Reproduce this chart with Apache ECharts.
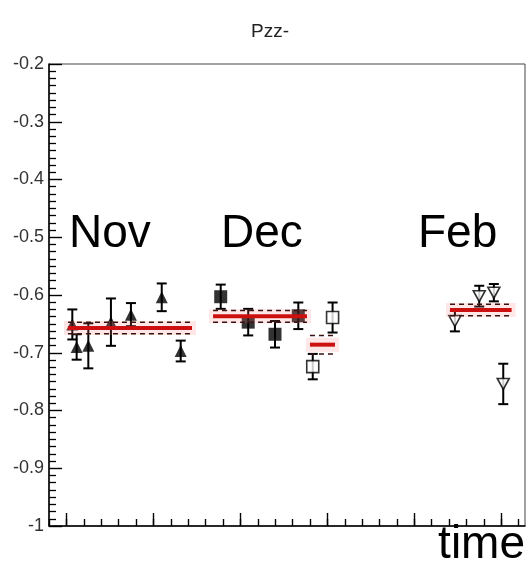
<!DOCTYPE html>
<html>
<head>
<meta charset="utf-8">
<script src="https://cdn.jsdelivr.net/npm/echarts@6/dist/echarts.min.js"></script>
<style>
  html, body { margin: 0; padding: 0; background: #fff; }
  #chart { width: 530px; height: 566px; }
</style>
</head>
<body>
<div id="chart"></div>
<script>
// x is in tick units (one minor tick = 1), y is Pzz-
const novX = [1.34, 1.59, 2.26, 3.56, 4.71, 6.48, 7.57];
const novY = [-0.651, -0.690, -0.688, -0.647, -0.634, -0.604, -0.697];
const novErr = [0.026, 0.022, 0.039, 0.041, 0.020, 0.024, 0.018];

const decX = [9.87, 11.45, 12.99, 14.33];
const decY = [-0.603, -0.647, -0.668, -0.636];
const decErr = [0.021, 0.023, 0.023, 0.023];

const dec2X = [15.16, 16.30];
const dec2Y = [-0.724, -0.639];
const dec2Err = [0.022, 0.026];

const febX = [23.33, 24.73, 25.57, 26.11];
const febY = [-0.645, -0.602, -0.596, -0.754];
const febErr = [0.018, 0.018, 0.015, 0.035];

// averages: [xStart, xEnd, mean, error]
const averages = [
    [1.09, 8.22, -0.657, 0.010],
    [9.43, 14.83, -0.637, 0.010],
    [15.0, 16.44, -0.686, 0.016],
    [23.05, 26.59, -0.626, 0.010],
];

const xMinorTicks = [0, 1, 2, 3, 4, 5, 6, 7, 8, 9, 10, 11, 12, 13, 14, 15, 16, 17, 18, 19, 20, 21, 22, 23, 24, 25, 26, 27];
const xMajorTicks = [1, 6, 11, 16, 21, 26];

const FONT = "'Liberation Sans', Arial, sans-serif";

function pts(xs, ys, es) {
    return xs.map((x, i) => [x, ys[i], es[i]]);
}

const allPoints = []
    .concat(pts(novX, novY, novErr))
    .concat(pts(decX, decY, decErr))
    .concat(pts(dec2X, dec2Y, dec2Err))
    .concat(pts(febX, febY, febErr));

function errorBars(params, api) {
    const x = api.value(0), y = api.value(1), e = api.value(2);
    const top = api.coord([x, y + e]);
    const bot = api.coord([x, y - e]);
    const w = 5;
    const st = { stroke: "#000", lineWidth: 2 };
    return {
        type: "group",
        children: [
            { type: "line", shape: { x1: top[0], y1: top[1], x2: bot[0], y2: bot[1] }, style: st },
            { type: "line", shape: { x1: top[0] - w, y1: top[1], x2: top[0] + w, y2: top[1] }, style: st },
            { type: "line", shape: { x1: bot[0] - w, y1: bot[1], x2: bot[0] + w, y2: bot[1] }, style: st },
        ],
    };
}

function avgBand(params, api) {
    const x1 = api.value(0), x2 = api.value(1), m = api.value(2), e = api.value(3);
    const a = api.coord([x1, m]);
    const b = api.coord([x2, m]);
    const up = api.coord([x1, m + e]);
    const dn = api.coord([x1, m - e]);
    const dash = { stroke: "#3a1010", lineWidth: 1.5, lineDash: [5, 4] };
    return {
        type: "group",
        children: [
            { type: "rect", shape: { x: a[0] - 4, y: a[1] - 7, width: b[0] - a[0] + 8, height: 14 },
              style: { fill: "rgba(255,120,120,0.18)" } },
            { type: "line", shape: { x1: a[0], y1: up[1], x2: b[0], y2: up[1] }, style: dash },
            { type: "line", shape: { x1: a[0], y1: dn[1], x2: b[0], y2: dn[1] }, style: dash },
            { type: "line", shape: { x1: a[0], y1: a[1], x2: b[0], y2: b[1] },
              style: { stroke: "#cc1010", lineWidth: 4 } },
        ],
    };
}

const chart = echarts.init(document.getElementById("chart"), null, { renderer: "canvas" });

const xBase = {
    type: "value",
    min: 0,
    max: 27.36,
    position: "bottom",
    axisLabel: { show: false },
    splitLine: { show: false },
};

chart.setOption({
    animation: false,
    backgroundColor: "#fff",
    title: {
        text: "Pzz-",
        left: 265,
        top: 17,
        textAlign: "center",
        textStyle: { fontFamily: FONT, fontWeight: "normal", fontSize: 19, color: "#222" },
    },
    grid: {
        left: 49, right: 5, top: 64, bottom: 40,
        show: true, borderColor: "#444", borderWidth: 1,
    },
    xAxis: [
        Object.assign({}, xBase, {
            axisLine: { show: true, lineStyle: { color: "#000", width: 1.5 } },
            axisTick: { show: true, inside: true, length: 7, customValues: xMinorTicks,
                        lineStyle: { color: "#000", width: 1.4 } },
        }),
        Object.assign({}, xBase, {
            axisLine: { show: false },
            axisTick: { show: true, inside: true, length: 13, customValues: xMajorTicks,
                        lineStyle: { color: "#000", width: 1.4 } },
        }),
    ],
    yAxis: {
        type: "value",
        min: -1,
        max: -0.2,
        interval: 0.1,
        axisLine: { show: true, lineStyle: { color: "#000", width: 1.5 } },
        axisTick: { show: true, inside: true, length: 13, lineStyle: { color: "#000", width: 1.4 } },
        minorTick: { show: true, splitNumber: 8, length: 7, lineStyle: { color: "#000", width: 1.3 } },
        axisLabel: { fontFamily: FONT, fontSize: 18, color: "#333", margin: 5,
                     formatter: (v) => String(Math.round(v * 10) / 10) },
        splitLine: { show: false },
    },
    graphic: [
        { type: "text", left: 69, top: 211, style: { text: "Nov", font: "46px " + FONT, fill: "#000" } },
        { type: "text", left: 221, top: 211, style: { text: "Dec", font: "46px " + FONT, fill: "#000" } },
        { type: "text", left: 418, top: 211, style: { text: "Feb", font: "46px " + FONT, fill: "#000" } },
        { type: "text", right: 5, top: 522, style: { text: "time", font: "46px " + FONT, fill: "#000" } },
    ],
    series: [
        {
            type: "custom",
            renderItem: errorBars,
            data: allPoints,
            z: 2,
        },
        {
            type: "scatter",
            data: pts(novX, novY, novErr),
            symbol: "triangle",
            symbolSize: [12, 12],
            itemStyle: { color: "#000" },
            z: 3,
        },
        {
            type: "scatter",
            data: pts(decX, decY, decErr),
            symbol: "rect",
            symbolSize: [13, 13],
            itemStyle: { color: "#000" },
            z: 3,
        },
        {
            type: "scatter",
            data: pts(dec2X, dec2Y, dec2Err),
            symbol: "rect",
            symbolSize: [12, 12],
            itemStyle: { color: "#fff", borderColor: "#000", borderWidth: 1.6 },
            z: 3,
        },
        {
            type: "scatter",
            data: pts(febX, febY, febErr),
            symbol: "triangle",
            symbolRotate: 180,
            symbolSize: [12, 11],
            itemStyle: { color: "#fff", borderColor: "#000", borderWidth: 1.6 },
            z: 3,
        },
        {
            type: "custom",
            renderItem: avgBand,
            data: averages,
            z: 4,
        },
    ],
});
</script>
</body>
</html>
